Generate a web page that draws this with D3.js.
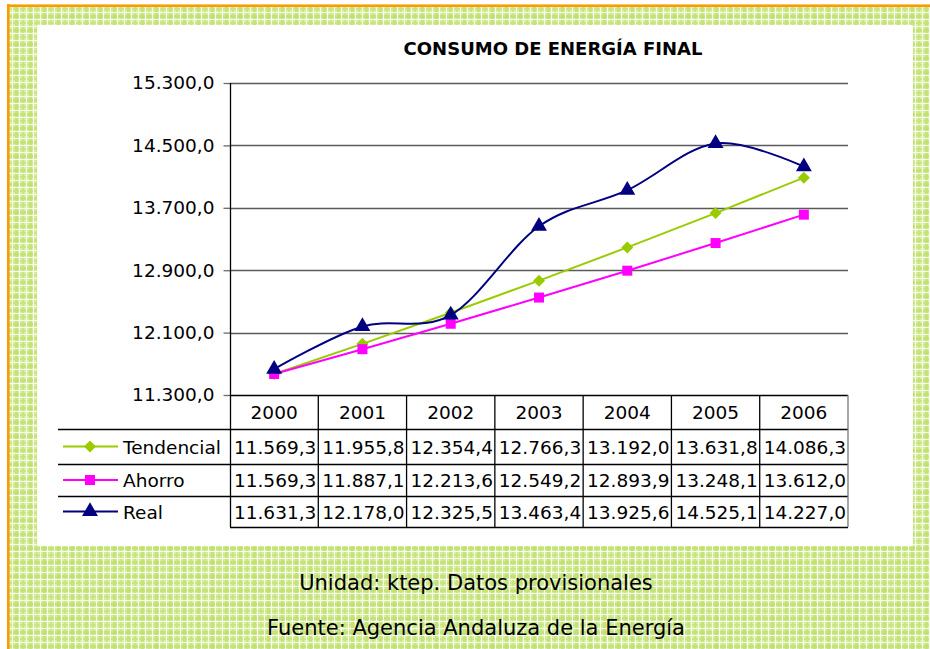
<!DOCTYPE html>
<html>
<head>
<meta charset="utf-8">
<script src="https://cdn.jsdelivr.net/npm/d3@7"></script>
<style>
  body { margin: 0; background: #fff; }
  text { font-family: "DejaVu Sans", Verdana, sans-serif; }
</style>
</head>
<body>
<div id="chart"></div>
<script>
const years = ["2000", "2001", "2002", "2003", "2004", "2005", "2006"];
const tendencial = [11569.3, 11955.8, 12354.4, 12766.3, 13192.0, 13631.8, 14086.3];
const ahorro = [11569.3, 11887.1, 12213.6, 12549.2, 12893.9, 13248.1, 13612.0];
const real = [11631.3, 12178.0, 12325.5, 13463.4, 13925.6, 14525.1, 14227.0];
const yTicks = [11300, 12100, 12900, 13700, 14500, 15300];
const seriesNames = ["Tendencial", "Ahorro", "Real"];

const W = 930, H = 649;
const pLeft = 230, pRight = 848, pTop = 83, pBottom = 395;
const rowY = [395, 429, 464, 496, 527];

const fmt = v => {
  let s = v.toFixed(1).replace(".", ",");
  let [i, d] = s.split(",");
  i = i.replace(/\B(?=(\d{3})+(?!\d))/g, ".");
  return i + "," + d;
};

var svg = d3.select("#chart").append("svg")
    .attr("width", W)
    .attr("height", H);

// plaid background
var defs = svg.append("defs");
var pat = defs.append("pattern")
    .attr("id", "plaid")
    .attr("patternUnits", "userSpaceOnUse")
    .attr("width", 14).attr("height", 14);
pat.append("rect").attr("width", 14).attr("height", 14).attr("fill", "#d8eea6");
[[1, 3, "#bfdf68"], [8, 2, "#c6e37a"]].forEach(s => {
  pat.append("rect").attr("x", s[0]).attr("y", 0).attr("width", s[1]).attr("height", 14).attr("fill", s[2]).attr("opacity", 0.7);
  pat.append("rect").attr("y", s[0]).attr("x", 0).attr("height", s[1]).attr("width", 14).attr("fill", s[2]).attr("opacity", 0.7);
});
[5, 12].forEach(p => {
  pat.append("rect").attr("x", p).attr("y", 0).attr("width", 1).attr("height", 14).attr("fill", "#f7fcec");
  pat.append("rect").attr("y", p).attr("x", 0).attr("height", 1).attr("width", 14).attr("fill", "#f7fcec");
});

svg.append("rect").attr("x", 9).attr("y", 6).attr("width", W - 9).attr("height", H - 6)
    .attr("fill", "url(#plaid)");
// orange border
svg.append("rect").attr("x", 7).attr("y", 4).attr("width", W - 7).attr("height", 1).attr("fill", "#ffc266");
svg.append("rect").attr("x", 7).attr("y", 5).attr("width", W - 7).attr("height", 2).attr("fill", "#ff9900");
svg.append("rect").attr("x", 7).attr("y", 4).attr("width", 2.5).attr("height", H - 4).attr("fill", "#ff9900");

// white panel
svg.append("rect").attr("x", 37).attr("y", 25).attr("width", 876).attr("height", 521).attr("fill", "#fff");

var y = d3.scaleLinear().domain([11300, 15300]).range([pBottom, pTop]);
var x = d3.scaleBand().domain(years).range([pLeft, pRight]);
var cx = d => x(d) + x.bandwidth() / 2;

// title
svg.append("text")
    .attr("x", 553).attr("y", 55)
    .attr("text-anchor", "middle")
    .attr("font-size", 18).attr("font-weight", "bold")
    .text("CONSUMO DE ENERGÍA FINAL");

// gridlines
svg.append("g").selectAll("line")
    .data(yTicks.slice(1))
    .enter().append("line")
    .attr("x1", pLeft).attr("x2", pRight)
    .attr("y1", d => Math.round(y(d)) + 0.5).attr("y2", d => Math.round(y(d)) + 0.5)
    .attr("stroke", "#5a5a5a").attr("stroke-width", 1.3);

// y axis
var yAxis = d3.axisLeft(y).tickValues(yTicks).tickSize(7).tickPadding(9).tickFormat(fmt);
var ga = svg.append("g").attr("transform", "translate(" + (pLeft + 0.5) + ",0)").call(yAxis);
ga.select(".domain").remove();
ga.selectAll(".tick line").attr("stroke", "#6b6b6b").attr("stroke-width", 1.3);
ga.selectAll(".tick text")
    .attr("font-family", "DejaVu Sans").attr("font-size", 18.5).attr("fill", "#000");
svg.append("line").attr("x1", pLeft + 0.5).attr("x2", pLeft + 0.5).attr("y1", pTop).attr("y2", rowY[4])
    .attr("stroke", "#000").attr("stroke-width", 1.3);

// table
var tbl = svg.append("g");
tbl.selectAll("line.h")
    .data(rowY)
    .enter().append("line")
    .attr("x1", (d, i) => (i === 0 || i === 4) ? pLeft : 58)
    .attr("x2", pRight)
    .attr("y1", d => d + 0.5).attr("y2", d => d + 0.5)
    .attr("stroke", "#000").attr("stroke-width", 1.3);
tbl.selectAll("line.v")
    .data(years)
    .enter().append("line")
    .attr("x1", d => x(d) + x.bandwidth()).attr("x2", d => x(d) + x.bandwidth())
    .attr("y1", rowY[0]).attr("y2", rowY[4])
    .attr("stroke", (d, i) => i === years.length - 1 ? "#777" : "#000").attr("stroke-width", 1.3);
tbl.selectAll("text.yr")
    .data(years)
    .enter().append("text")
    .attr("x", cx).attr("y", 419)
    .attr("text-anchor", "middle").attr("font-size", 18.5)
    .text(d => d);

var series = [
  {name: seriesNames[0], values: tendencial, color: "#99cc00", shape: d3.symbolSquare, size: 72, rot: 45, curve: d3.curveLinear},
  {name: seriesNames[1], values: ahorro, color: "#ff00ff", shape: d3.symbolSquare, size: 100, rot: 0, curve: d3.curveLinear},
  {name: seriesNames[2], values: real, color: "#000080", shape: d3.symbolTriangle, size: 110, rot: 0, curve: d3.curveCardinal.tension(0)}
];

var line = d3.line();

series.forEach((s, si) => {
  var pts = s.values.map((v, i) => [cx(years[i]), y(v)]);
  svg.append("path")
      .attr("d", line.curve(s.curve)(pts))
      .attr("fill", "none").attr("stroke", s.color).attr("stroke-width", 2);
  svg.append("g").selectAll("path")
      .data(pts)
      .enter().append("path")
      .attr("transform", d => "translate(" + d[0] + "," + d[1] + ") rotate(" + s.rot + ")")
      .attr("d", d3.symbol().type(s.shape).size(s.size))
      .attr("fill", s.color);

  // legend + values row
  var ry = (rowY[si + 1] + rowY[si + 2]) / 2;
  svg.append("line").attr("x1", 63).attr("x2", 118).attr("y1", ry).attr("y2", ry)
      .attr("stroke", s.color).attr("stroke-width", 2);
  svg.append("path").attr("transform", "translate(90," + ry + ") rotate(" + s.rot + ")")
      .attr("d", d3.symbol().type(s.shape).size(s.size)).attr("fill", s.color);
  svg.append("text").attr("x", 123).attr("y", ry + 7).attr("font-size", 18.5).text(s.name);
  svg.append("g").selectAll("text")
      .data(s.values)
      .enter().append("text")
      .attr("x", (d, i) => cx(years[i]) + 1).attr("y", ry + 7)
      .attr("text-anchor", "middle").attr("font-size", 18.5)
      .text(fmt);
});

// footer
svg.append("text").attr("x", 476).attr("y", 590).attr("text-anchor", "middle")
    .attr("font-size", 21).text("Unidad: ktep. Datos provisionales");
svg.append("text").attr("x", 476).attr("y", 635).attr("text-anchor", "middle")
    .attr("font-size", 21).text("Fuente: Agencia Andaluza de la Energía");
</script>
</body>
</html>
